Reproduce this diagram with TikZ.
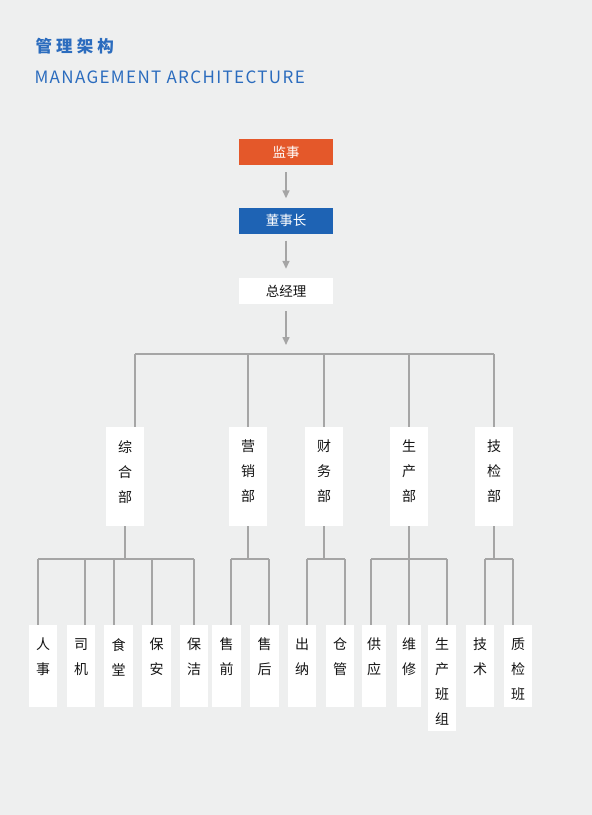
\documentclass[tikz,border=0pt]{standalone}
\usepackage{fontspec}
\usepackage{tikz}
\usepackage{xcolor}
\usetikzlibrary{arrows.meta, positioning}
\setmainfont{Noto Sans CJK SC}
\newfontfamily\titlefont[LetterSpace=25]{Noto Sans CJK SC}
\newfontfamily\subtitlefont[LetterSpace=8]{Noto Sans CJK SC}
\definecolor{orgbg}{RGB}{238, 239, 239}
\definecolor{orgorange}{RGB}{228, 88, 42}
\definecolor{orgblue}{RGB}{30, 99, 180}
\definecolor{orgtitle}{RGB}{43, 108, 190}
\definecolor{orgline}{RGB}{165, 165, 165}
\definecolor{orgtext}{RGB}{20, 20, 20}
\newcommand{\vcol}[3]{\parbox[c][#2][t]{#1}{\centering\vspace*{13pt}#3}}
\tikzset{
    topbox/.style={minimum width=94pt, minimum height=26pt, inner sep=0pt, font=\fontsize{13.5}{16}\selectfont},
    bossnode/.style={topbox, fill=orgorange, text=white},
    chairnode/.style={topbox, fill=orgblue, text=white},
    gmnode/.style={topbox, fill=white, text=orgtext},
    colnode/.style={fill=white, inner sep=0pt, anchor=north, text=orgtext, font=\fontsize{14}{25}\selectfont},
    conn/.style={draw=orgline, line width=1.5pt},
    arr/.style={conn, -{Triangle[width=7pt, length=8pt]}, shorten <=7pt, shorten >=9pt}
}

\begin{document}
\begin{tikzpicture}[x=1pt, y=-1pt]
    \fill[orgbg] (0,0) rectangle (592,815);
    \node[anchor=west, text=orgtitle, font=\titlefont\bfseries\fontsize{16.5}{18}\selectfont] (titlecn) at (32,46) {管理架构};
    \node[anchor=west, text=orgtitle, font=\subtitlefont\fontsize{17}{20}\selectfont] (titleen) at (31,77) {MANAGEMENT ARCHITECTURE};

    \node[bossnode] (jianshi) at (286,152) {监事};
    \node[chairnode] (dongshi) at (286,220.5) {董事长};
    \node[gmnode] (zongjingli) at (286,291) {总经理};
    \coordinate (hub) at (286,354);
    \draw[arr] (jianshi) -- (dongshi);
    \draw[arr] (dongshi) -- (zongjingli);
    \draw[arr] (zongjingli) -- (hub);

    \node[colnode] (zonghe) at (125,427) {\vcol{38pt}{99pt}{综\\合\\部}};
    \node[colnode] (yingxiao) at (248,427) {\vcol{38pt}{99pt}{营\\销\\部}};
    \node[colnode] (caiwu) at (324,427) {\vcol{38pt}{99pt}{财\\务\\部}};
    \node[colnode] (shengchan) at (409,427) {\vcol{38pt}{99pt}{生\\产\\部}};
    \node[colnode] (jijian) at (494,427) {\vcol{38pt}{99pt}{技\\检\\部}};
    \coordinate (barzh) at (135,354);
    \coordinate (barjj) at (494,354);
    \draw[conn] (barzh) -- (barjj);
    \draw[conn] (barzh) -- (barzh |- zonghe.north);
    \draw[conn] (yingxiao.north |- hub) -- (yingxiao.north);
    \draw[conn] (caiwu.north |- hub) -- (caiwu.north);
    \draw[conn] (shengchan.north |- hub) -- (shengchan.north);
    \draw[conn] (barjj) -- (jijian.north);

    \node[colnode] (renshi) at (43,625) {\vcol{28pt}{82pt}{人\\事}};
    \node[colnode] (siji) at (81,625) {\vcol{28pt}{82pt}{司\\机}};
    \node[colnode] (shitang) at (118.5,625) {\vcol{29pt}{82pt}{食\\堂}};
    \node[colnode] (baoan) at (156.5,625) {\vcol{29pt}{82pt}{保\\安}};
    \node[colnode] (baojie) at (194,625) {\vcol{28pt}{82pt}{保\\洁}};
    \node[colnode] (shouqian) at (226.5,625) {\vcol{29pt}{82pt}{售\\前}};
    \node[colnode] (shouhou) at (264.5,625) {\vcol{29pt}{82pt}{售\\后}};
    \node[colnode] (chuna) at (302,625) {\vcol{28pt}{82pt}{出\\纳}};
    \node[colnode] (cangguan) at (340,625) {\vcol{28pt}{82pt}{仓\\管}};
    \node[colnode] (gongying) at (374,625) {\vcol{24pt}{82pt}{供\\应}};
    \node[colnode] (weixiu) at (409,625) {\vcol{24pt}{82pt}{维\\修}};
    \node[colnode] (banzu) at (442,625) {\vcol{28pt}{106pt}{生\\产\\班\\组}};
    \node[colnode] (jishu) at (480,625) {\vcol{28pt}{82pt}{技\\术}};
    \node[colnode] (zhijian) at (518,625) {\vcol{28pt}{82pt}{质\\检\\班}};

    \coordinate (zhL) at (38,559);
    \coordinate (zhR) at (194,559);
    \draw[conn] (zonghe.south) -- (zonghe.south |- zhL);
    \draw[conn] (zhL) -- (zhR);
    \draw[conn] (zhL) -- (zhL |- renshi.north);
    \draw[conn] (85,559) -- (85,559 |- siji.north);
    \draw[conn] (114,559) -- (114,559 |- shitang.north);
    \draw[conn] (152,559) -- (152,559 |- baoan.north);
    \draw[conn] (zhR) -- (baojie.north);

    \coordinate (yxL) at (231,559);
    \coordinate (yxR) at (269,559);
    \draw[conn] (yingxiao.south) -- (yingxiao.south |- yxL);
    \draw[conn] (yxL) -- (yxR);
    \draw[conn] (yxL) -- (yxL |- shouqian.north);
    \draw[conn] (yxR) -- (yxR |- shouhou.north);

    \coordinate (cwL) at (307,559);
    \coordinate (cwR) at (345,559);
    \draw[conn] (caiwu.south) -- (caiwu.south |- cwL);
    \draw[conn] (cwL) -- (cwR);
    \draw[conn] (cwL) -- (cwL |- chuna.north);
    \draw[conn] (cwR) -- (cwR |- cangguan.north);

    \coordinate (scL) at (371,559);
    \coordinate (scR) at (447,559);
    \draw[conn] (shengchan.south) -- (shengchan.south |- scL);
    \draw[conn] (scL) -- (scR);
    \draw[conn] (scL) -- (scL |- gongying.north);
    \draw[conn] (shengchan.south |- scL) -- (weixiu.north);
    \draw[conn] (scR) -- (scR |- banzu.north);

    \coordinate (jjL) at (485,559);
    \coordinate (jjR) at (513,559);
    \draw[conn] (jijian.south) -- (jijian.south |- jjL);
    \draw[conn] (jjL) -- (jjR);
    \draw[conn] (jjL) -- (jjL |- jishu.north);
    \draw[conn] (jjR) -- (jjR |- zhijian.north);
\end{tikzpicture}
\end{document}
